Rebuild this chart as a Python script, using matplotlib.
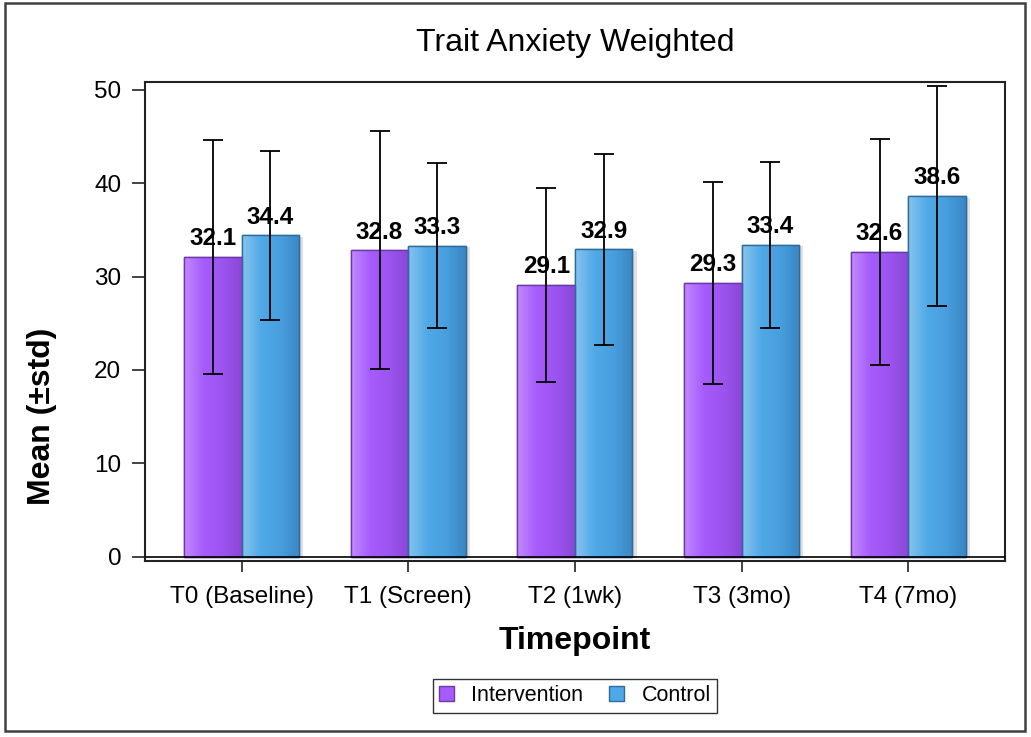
import numpy as np
import matplotlib
matplotlib.use('Agg')
import matplotlib.pyplot as plt
from matplotlib.colors import LinearSegmentedColormap
from matplotlib.patches import Patch, Rectangle
import matplotlib.patheffects as pe

plt.rcParams['font.family'] = ['Liberation Sans', 'DejaVu Sans']

# data
timepoints = ['T0 (Baseline)', 'T1 (Screen)', 'T2 (1wk)', 'T3 (3mo)', 'T4 (7mo)']
groups = ['Intervention', 'Control']
interv_mean = [32.1, 32.8, 29.1, 29.3, 32.6]
interv_std = [12.5, 12.75, 10.4, 10.8, 12.1]
control_mean = [34.4, 33.3, 32.9, 33.4, 38.6]
control_std = [9.05, 8.85, 10.2, 8.9, 11.75]

# styles
grad_purple = LinearSegmentedColormap.from_list('p', ['#c28aff', '#a65cfb', '#9c54f0', '#8a48d6'])
grad_blue = LinearSegmentedColormap.from_list('b', ['#86c4ef', '#50a9e7', '#489ede', '#3a86c2'])
edge_purple = '#6b3aa8'
edge_blue = '#2f6c9c'
width = 0.345

fig = plt.figure(figsize=(10.31, 7.37), dpi=100)
ax = fig.add_axes([0.1406, 0.2392, 0.8342, 0.6499])

x = np.arange(len(timepoints))
shadow = [pe.SimplePatchShadow(offset=(3, -1), alpha=0.18, shadow_rgbFace='#555555'), pe.Normal()]

bars_i = ax.bar(x - width/2, interv_mean, width, color='#a65cfb', edgecolor=edge_purple,
	linewidth=1.0, zorder=2, path_effects=shadow)
bars_c = ax.bar(x + width/2, control_mean, width, color='#4ea8e6', edgecolor=edge_blue,
	linewidth=1.0, zorder=2, path_effects=shadow)

# gradient fills clipped to each bar
grad = np.linspace(0, 1, 256).reshape(1, -1)
for bars, cmap in ((bars_i, grad_purple), (bars_c, grad_blue)):
	for b in bars:
		x0, y0 = b.get_x(), b.get_y()
		im = ax.imshow(grad, cmap=cmap, aspect='auto', zorder=2.5,
			extent=(x0, x0 + b.get_width(), y0, y0 + b.get_height()))
		im.set_clip_path(b)
		b2 = Rectangle((x0, y0), b.get_width(), b.get_height(), fill=False,
			edgecolor=b.get_edgecolor(), linewidth=1.0, zorder=2.6)
		ax.add_patch(b2)

# error bars
ax.errorbar(x - width/2, interv_mean, yerr=interv_std, fmt='none', ecolor='black',
	elinewidth=1.3, capsize=7, capthick=1.3, zorder=4)
ax.errorbar(x + width/2, control_mean, yerr=control_std, fmt='none', ecolor='black',
	elinewidth=1.3, capsize=7, capthick=1.3, zorder=4)

# value labels
for xs, vals in ((x - width/2, interv_mean), (x + width/2, control_mean)):
	for xi, v in zip(xs, vals):
		ax.annotate('{:.1f}'.format(v), (xi, v), xytext=(0, 8.5), textcoords='offset points',
			ha='center', va='baseline', fontsize=17.5, fontweight='bold', zorder=5)

ax.axhline(0, color='black', linewidth=1.2, zorder=3)
ax.set_xlim(-0.58, 4.58)
ax.set_ylim(-0.43, 50.86)
ax.set_yticks([0, 10, 20, 30, 40, 50])
ax.set_xticks(x)
ax.set_xticklabels(timepoints)
ax.tick_params(axis='both', labelsize=17.5, direction='out', width=1.2, color='#222222')
ax.tick_params(axis='y', length=9.5, pad=7.5)
ax.tick_params(axis='x', length=8, pad=10)
for s in ax.spines.values():
	s.set_linewidth(1.5)
	s.set_color('#222222')

fig.text(0.5577, 0.9417, 'Trait Anxiety Weighted', ha='center', va='center', fontsize=23)
fig.text(0.5577, 0.1303, 'Timepoint', ha='center', va='center', fontsize=23, fontweight='bold')
fig.text(0.0407, 0.4355, 'Mean (\u00b1std)', ha='center', va='center', rotation=90,
	fontsize=23, fontweight='bold')

# legend
handles = [Patch(facecolor='#a65cfb', edgecolor=edge_purple, label=groups[0]),
	Patch(facecolor='#4ea8e6', edgecolor=edge_blue, label=groups[1])]
leg = fig.legend(handles=handles, loc='center', bbox_to_anchor=(0.5577, 0.0557), ncol=2,
	fontsize=15.5, frameon=True, fancybox=False, edgecolor='black', handlelength=0.7,
	handleheight=0.7, handletextpad=0.8, columnspacing=1.2, borderpad=0.3, borderaxespad=0)
leg.get_frame().set_linewidth(1.0)

# figure border
fig.patches.append(Rectangle((0.0046, 0.008), 0.9894, 0.988, transform=fig.transFigure,
	fill=False, edgecolor='#404040', linewidth=1.8))

fig.savefig('out.png', dpi=100)
